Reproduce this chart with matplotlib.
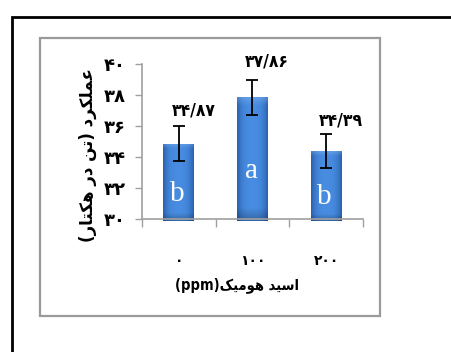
import matplotlib
matplotlib.use("Agg")
import matplotlib.pyplot as plt
import numpy as np
from matplotlib.patches import Rectangle
from matplotlib.lines import Line2D

# ---------------- data ----------------
categories = ["۰", "۱۰۰", "۲۰۰"]
values = [34.87, 37.86, 34.39]
errors = [1.10, 1.12, 1.07]
value_labels = ["۳۴/۸۷", "۳۷/۸۶", "۳۴/۳۹"]
letters = ["b", "a", "b"]
yticks = [30, 32, 34, 36, 38, 40]
ytick_labels = ["۳۰", "۳۲", "۳۴", "۳۶", "۳۸", "۴۰"]
ylabel_text = "عملکرد (تن در هکتار)"
xlabel_word = "اسید هومیک"
xlabel_unit = "(ppm)"

# ---------------- minimal Persian shaping ----------------
FORMS = {
    'ا': ('\uFE8D', '\uFE8E', None, None),
    'د': ('\uFEA9', '\uFEAA', None, None),
    'ر': ('\uFEAD', '\uFEAE', None, None),
    'و': ('\uFEED', '\uFEEE', None, None),
    'ت': ('\uFE95', '\uFE96', '\uFE97', '\uFE98'),
    'س': ('\uFEB1', '\uFEB2', '\uFEB3', '\uFEB4'),
    'ع': ('\uFEC9', '\uFECA', '\uFECB', '\uFECC'),
    'ل': ('\uFEDD', '\uFEDE', '\uFEDF', '\uFEE0'),
    'م': ('\uFEE1', '\uFEE2', '\uFEE3', '\uFEE4'),
    'ن': ('\uFEE5', '\uFEE6', '\uFEE7', '\uFEE8'),
    'ه': ('\uFEE9', '\uFEEA', '\uFEEB', '\uFEEC'),
    'ی': ('\uFBFC', '\uFBFD', '\uFBFE', '\uFBFF'),
    'ک': ('\uFB8E', '\uFB8F', '\uFB90', '\uFB91'),
}

def shape_word(w):
    out = []
    n = len(w)
    for i, ch in enumerate(w):
        f = FORMS.get(ch)
        if f is None:
            out.append(ch)
            continue
        prev = w[i - 1] if i > 0 else None
        nxt = w[i + 1] if i < n - 1 else None
        pj = prev is not None and prev in FORMS and FORMS[prev][2] is not None
        nj = nxt is not None and nxt in FORMS and f[2] is not None
        if pj and nj:
            g = f[3]
        elif pj:
            g = f[1]
        elif nj:
            g = f[2]
        else:
            g = f[0]
        out.append(g)
    return ''.join(reversed(out))

def visual_rtl(s):
    tokens = s.split(' ')
    res = []
    mir = {'(': ')', ')': '('}
    for t in reversed(tokens):
        lead = ''
        trail = ''
        while t and t[0] in '()':
            lead += t[0]; t = t[1:]
        while t and t[-1] in '()':
            trail = t[-1] + trail; t = t[:-1]
        lead_v = ''.join(mir[c] for c in reversed(lead))
        trail_v = ''.join(mir[c] for c in reversed(trail))
        res.append(trail_v + shape_word(t) + lead_v)
    return ' '.join(res)

# ---------------- figure ----------------
W, H = 452, 352
fig = plt.figure(figsize=(W / 100, H / 100), dpi=100)
fig.patch.set_facecolor("white")

fig.add_artist(Line2D([12 / W, 12 / W, 1.0], [0.0, 1 - 17 / H, 1 - 17 / H],
                      transform=fig.transFigure, color="black", lw=2.0,
                      solid_joinstyle="miter"))
fig.add_artist(Rectangle((40 / W, 1 - 316 / H), 340 / W, 278 / H,
                         transform=fig.transFigure, fill=False,
                         edgecolor="#9a9a9a", lw=1.6))

ax = fig.add_axes([142 / W, 1 - 219 / H, 221 / W, 155 / H])
ax.set_facecolor("none")
x = np.arange(len(categories))
bw = 0.42
bars = ax.bar(x, [v - 30 for v in values], bottom=30, width=bw,
              color="#3b78c8", edgecolor="none", zorder=2)

grad = np.zeros((60, 40, 3))
hx = np.linspace(-1, 1, 40)
hy = np.linspace(0, 1, 60)
edge = np.abs(hx) ** 3
base_c = np.array([0.28, 0.55, 0.88])
dark_c = np.array([0.17, 0.38, 0.68])
for j in range(60):
    row = base_c[None, :] * (1 - edge[:, None]) + dark_c[None, :] * edge[:, None]
    if hy[j] < 0.06:
        t = 1 - hy[j] / 0.06
        row = row * (1 - 0.3 * t) + np.array([0.62, 0.78, 0.96]) * 0.3 * t
    if hy[j] > 0.9:
        row = row * (1 - 0.25 * (hy[j] - 0.9) / 0.1)
    grad[j] = row
for b in bars:
    x0, y0 = b.get_x(), b.get_y()
    w, h = b.get_width(), b.get_height()
    im = ax.imshow(grad, extent=(x0, x0 + w, y0 - 0.12, y0 + h), origin="upper",
                   aspect="auto", zorder=2.5, interpolation="bilinear")
    im.set_clip_path(Rectangle((x0, y0 - 0.12), w, h + 0.12, transform=ax.transData))

ax.errorbar(x, values, yerr=errors, fmt="none", ecolor="black", elinewidth=1.3,
            capsize=4, capthick=1.3, zorder=4)

label_dy = [1.05, 1.2, 0.88]
for i in range(len(values)):
    ax.text(x[i] + 0.2, values[i] + errors[i] + label_dy[i], value_labels[i],
            ha="center", va="center", fontsize=12.5, fontweight="bold",
            family="DejaVu Sans", stretch="condensed", zorder=5)

letter_y = [31.6, 33.1, 31.45]
for i in range(len(values)):
    ax.text(x[i] - 0.02, letter_y[i], letters[i], ha="center", va="center",
            fontsize=21, color="white", family="Liberation Serif", zorder=5)

ax.set_xlim(-0.5, 2.5)
ax.set_ylim(30, 40)
ax.set_yticks(yticks)
ax.set_yticklabels(ytick_labels, fontsize=13, fontweight="bold", family="DejaVu Sans")
ax.set_xticks(x)
ax.set_xticklabels(categories, fontsize=10, fontweight="bold", family="DejaVu Sans")
ax.set_xticks([-0.5, 0.5, 1.5, 2.5], minor=True)
ax.tick_params(axis="x", which="major", length=0, pad=25)
ax.tick_params(axis="x", which="minor", length=6, color="#a0a0a0", width=1)
ax.tick_params(axis="y", length=5, color="#a0a0a0", width=1, pad=7)
for s in ["top", "right"]:
    ax.spines[s].set_visible(False)
for s in ["left", "bottom"]:
    ax.spines[s].set_color("#a0a0a0")
    ax.spines[s].set_linewidth(1.2)

fig.text(88 / W, 1 - 155 / H, visual_rtl(ylabel_text), rotation=90,
         ha="center", va="center", fontsize=12, fontweight="bold", family="DejaVu Sans")
fig.text(237 / W, 1 - 285 / H, xlabel_unit + visual_rtl(xlabel_word),
         ha="center", va="center", fontsize=10.5, fontweight="bold",
         family="DejaVu Sans", stretch="condensed")

fig.savefig("out.png", dpi=100, facecolor="white")
